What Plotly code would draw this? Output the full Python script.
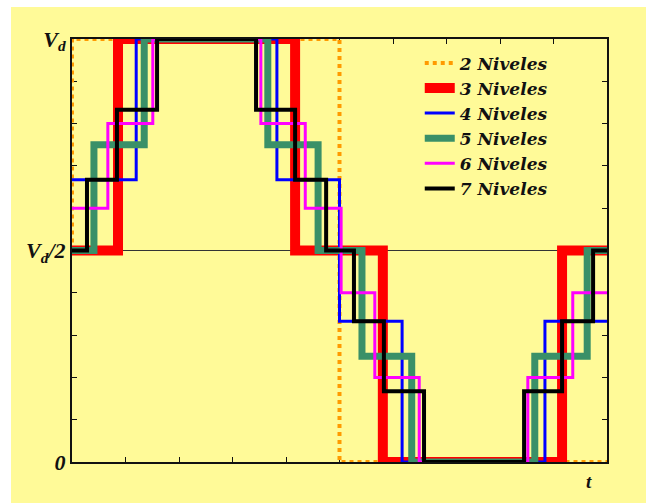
import plotly.graph_objects as go

# Time (fraction of one period) at each step transition, and the level (fraction of Vd)
T2 = [0.0, 0.0, 0.5, 1.0]
V2 = [0.5, 1.0, 0.0, 0.0]
T3 = [0.0, 0.086, 0.417, 0.581, 0.916, 1.0]
V3 = [0.5, 1.0, 0.5, 0.0, 0.5, 0.5]
T4 = [0.0, 0.120, 0.383, 0.500, 0.617, 0.884, 1.0]
V4 = [0.667, 1.0, 0.667, 0.333, 0.0, 0.333, 0.333]
T5 = [0.0, 0.041, 0.135, 0.366, 0.460, 0.542, 0.635, 0.865, 0.963, 1.0]
V5 = [0.5, 0.75, 1.0, 0.75, 0.5, 0.25, 0.0, 0.25, 0.5, 0.5]
T6 = [0.0, 0.067, 0.151, 0.353, 0.436, 0.503, 0.566, 0.649, 0.852, 0.936, 1.0]
V6 = [0.6, 0.8, 1.0, 0.8, 0.6, 0.4, 0.2, 0.0, 0.2, 0.4, 0.4]
T7 = [0.0, 0.028, 0.084, 0.159, 0.344, 0.417, 0.475, 0.527, 0.583, 0.658, 0.845, 0.916, 0.974, 1.0]
V7 = [0.5, 0.667, 0.833, 1.0, 0.833, 0.667, 0.5, 0.333, 0.167, 0.0, 0.167, 0.333, 0.5, 0.5]

NAMES = ["2 Niveles", "3 Niveles", "4 Niveles", "5 Niveles", "6 Niveles", "7 Niveles"]
Y_TICKS = [0.0, 0.1, 0.2, 0.3, 0.4, 0.5, 0.6, 0.7, 0.8, 0.9, 1.0]
Y_LABELS = ["<b><i>0</i></b>", "", "", "", "", "<b><i>V<sub>d</sub>/2</i></b>", "", "", "", "", "<b><i>V<sub>d</sub></i></b>"]
X_TICKS = [0.0, 0.1, 0.2, 0.3, 0.4, 0.5, 0.6, 0.7, 0.8, 0.9, 1.0]
VD_HALF = 0.5

series = [(T2, V2), (T3, V3), (T4, V4), (T5, V5), (T6, V6), (T7, V7)]
styles = [
    dict(color="#FF9A00", width=4, dash="4px,4px"),
    dict(color="#FF0000", width=10),
    dict(color="#0000FF", width=3),
    dict(color="#3A9068", width=7),
    dict(color="#FF00FF", width=3),
    dict(color="#000000", width=4),
]

YELLOW = "#FFFA98"
FONT = "Liberation Serif"

fig = go.Figure()
for (t, v), name, st in zip(series, NAMES, styles):
    fig.add_trace(go.Scatter(
        x=t, y=v, mode="lines", line_shape="hv", line=st,
        name="<b><i>%s</i></b>" % name, cliponaxis=False,
    ))

fig.update_layout(
    width=646, height=503,
    margin=dict(l=72, r=39, t=39, b=41),
    paper_bgcolor=YELLOW,
    plot_bgcolor=YELLOW,
    font=dict(family=FONT, color="#111111"),
    showlegend=True,
    legend=dict(
        x=0.65, y=0.985, xanchor="left", yanchor="top",
        bgcolor="rgba(0,0,0,0)", borderwidth=0,
        font=dict(family="DejaVu Serif", size=17, color="#111111"),
        tracegroupgap=0,
    ),
    shapes=[
        dict(type="rect", xref="paper", yref="paper",
             x0=-0.2, x1=1.2, y0=1.0757, y1=1.2,
             fillcolor="white", line=dict(width=0), layer="below"),
        dict(type="rect", xref="paper", yref="paper",
             x0=-0.2, x1=-0.114, y0=-0.2, y1=1.2,
             fillcolor="white", line=dict(width=0), layer="below"),
        dict(type="line", xref="paper", yref="y", x0=0, x1=1,
             y0=VD_HALF, y1=VD_HALF, line=dict(color="#333333", width=1.2),
             layer="below"),
    ],
    annotations=[
        dict(text="<b><i>t</i></b>", xref="paper", yref="paper",
             x=0.976, y=-0.076, showarrow=False,
             font=dict(family=FONT, size=19, color="#111111")),
    ],
)

fig.update_xaxes(
    range=[0, 1], showgrid=False, zeroline=False,
    showline=True, linecolor="#111111", linewidth=2, mirror="ticks",
    ticks="inside", ticklen=5, tickwidth=1.2, tickcolor="#111111",
    tickvals=X_TICKS, showticklabels=False, layer="below traces",
)
fig.update_yaxes(
    range=[0, 1], showgrid=False, zeroline=False,
    showline=True, linecolor="#111111", linewidth=2, mirror="ticks",
    ticks="inside", ticklen=5, tickwidth=1.2, tickcolor="#111111",
    tickvals=Y_TICKS, ticktext=Y_LABELS, layer="below traces",
    tickfont=dict(family=FONT, size=22, color="#111111"),
)

fig.write_html(
    "out.html",
    config={"displayModeBar": False},
    post_script=(
        "document.body.style.margin='0';"
        "document.body.style.overflow='hidden';"
        "document.documentElement.style.overflow='hidden';"
    ),
)
